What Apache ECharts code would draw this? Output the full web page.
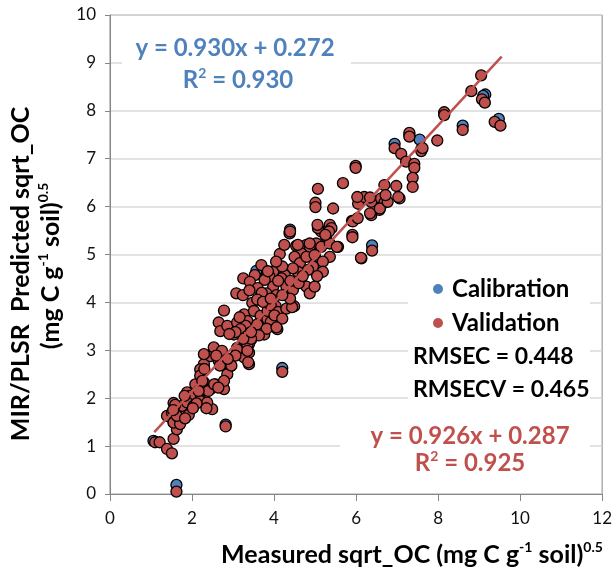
<!DOCTYPE html>
<html>
<head>
<meta charset="utf-8">
<script src="https://cdn.jsdelivr.net/npm/echarts@6/dist/echarts.min.js"></script>
<style>
html,body{margin:0;padding:0;background:#fff;}
#chart{width:615px;height:574px;}
</style>
</head>
<body>
<div id="chart"></div>
<script>
// ---------- data ----------
var xTicks = [0, 2, 4, 6, 8, 10, 12];
var yTicks = [0, 1, 2, 3, 4, 5, 6, 7, 8, 9, 10];

var calX = [1.62, 1.06, 2.82, 4.20, 3.44, 3.58, 3.57, 4.38, 6.39, 6.94, 7.55, 8.60, 9.15, 9.10, 9.48, 4.39, 2.20, 7.59, 1.55, 3.10, 5.00, 5.90, 7.30, 8.15];
var calY = [0.19, 1.11, 1.45, 2.63, 3.22, 4.62, 4.66, 5.47, 5.19, 7.31, 7.40, 7.69, 8.34, 8.31, 7.83, 5.52, 1.98, 7.20, 1.50, 3.05, 4.95, 5.70, 7.50, 7.95];

var valX = [
  9.05, 8.81, 9.07, 9.14, 9.38, 9.52, 8.60, 8.15, 8.15, 7.98,
  7.30, 7.30, 6.94, 7.10, 7.59, 7.62, 7.22, 7.42, 7.42, 7.38,
  7.38, 6.98, 6.69, 5.99, 5.99, 5.68, 5.07, 5.01, 5.01, 5.44,
  6.05, 6.05, 6.37, 6.61, 6.69, 6.57, 6.37, 7.06, 5.92, 6.04,
  5.91, 5.91, 6.13, 6.39, 5.36, 5.40, 5.27, 5.15, 5.07, 4.38,
  5.03, 5.15, 5.36, 5.56, 5.36, 4.54, 4.79, 4.87, 4.67, 4.50,
  4.63, 4.79, 4.99, 5.19, 4.95, 5.19, 4.83, 4.58, 4.46, 4.14,
  4.26, 3.98, 3.89, 3.69, 3.53, 3.25, 3.41, 3.08, 3.24, 3.77,
  3.98, 4.18, 4.30, 4.46, 4.79, 4.87, 4.99, 3.81, 4.06, 3.60,
  3.70, 4.10, 4.40, 4.60, 4.70, 3.85, 4.20, 4.05, 3.40, 5.05,
  2.78, 2.65, 2.69, 2.86, 3.02, 3.10, 3.27, 3.35, 3.31, 3.18,
  3.43, 3.47, 3.51, 3.35, 3.39, 3.39, 3.39, 3.27, 3.10, 3.67,
  3.84, 3.76, 3.84, 3.59, 4.04, 4.08, 4.08, 3.59, 4.49, 2.29,
  2.20, 2.45, 2.53, 2.73, 2.94, 2.86, 2.65, 2.29, 2.08, 2.29,
  2.57, 2.45, 2.78, 2.78, 2.20, 1.88, 2.16, 1.96, 4.20, 3.92,
  4.10, 4.30, 4.44, 3.92, 4.01, 4.20, 3.82, 4.06, 3.63, 3.73,
  3.92, 4.39, 4.20, 1.62, 1.10, 1.21, 1.39, 1.51, 1.55, 2.82,
  1.39, 1.51, 1.55, 1.63, 1.55, 1.71, 1.84, 1.76, 1.88, 2.04,
  2.20, 2.49, 2.37, 1.71, 1.63, 2.35, 2.11, 1.92, 2.02, 1.59,
  1.54, 1.83, 6.34, 6.58, 6.77, 6.20, 5.34, 5.53, 6.72, 7.03,
  6.03, 6.34, 5.06, 6.12, 5.25, 4.39, 4.25, 4.58, 4.87, 2.40,
  2.68, 2.96, 3.06, 2.30, 2.25, 2.54, 2.64, 2.16, 1.82, 3.35,
  3.35, 3.37, 3.44, 3.25, 3.16, 3.44, 3.06, 2.91, 2.87, 2.59
];
var valY = [
  8.74, 8.41, 8.24, 8.17, 7.77, 7.69, 7.60, 7.97, 7.91, 7.38,
  7.54, 7.46, 7.22, 7.10, 7.16, 7.22, 6.94, 6.89, 6.81, 6.60,
  6.41, 6.43, 6.45, 6.85, 6.81, 6.49, 6.37, 6.08, 5.99, 5.96,
  6.18, 6.06, 6.10, 6.17, 6.08, 5.93, 5.82, 6.17, 5.69, 5.76,
  5.41, 5.36, 4.92, 5.08, 5.62, 5.55, 5.37, 5.48, 5.55, 5.44,
  5.23, 5.16, 5.23, 5.16, 4.95, 5.18, 5.20, 5.16, 5.02, 4.95,
  4.82, 4.95, 4.99, 4.85, 4.75, 4.64, 4.68, 4.64, 4.71, 5.01,
  4.57, 4.64, 4.54, 4.78, 4.57, 4.50, 4.43, 4.19, 4.15, 4.47,
  4.33, 4.50, 4.33, 4.26, 4.33, 4.19, 4.33, 4.19, 4.15, 4.30,
  4.20, 4.45, 4.45, 4.40, 4.55, 4.65, 4.75, 4.85, 4.25, 4.55,
  3.83, 3.58, 3.40, 3.51, 3.33, 3.58, 3.75, 3.61, 3.51, 3.44,
  3.37, 3.99, 3.82, 3.30, 3.13, 2.95, 2.71, 2.85, 3.02, 3.72,
  3.65, 3.33, 3.82, 3.54, 3.92, 3.72, 3.44, 4.06, 3.92, 2.71,
  2.60, 2.88, 3.06, 2.99, 2.67, 2.50, 2.78, 2.92, 2.29, 2.33,
  2.29, 2.19, 2.19, 2.36, 2.47, 2.12, 2.12, 2.05, 2.55, 3.94,
  3.80, 3.87, 3.90, 3.59, 3.73, 3.66, 3.45, 3.48, 3.31, 4.01,
  4.08, 4.08, 4.15, 0.05, 1.08, 1.08, 0.94, 0.85, 1.15, 1.41,
  1.63, 1.70, 1.90, 1.35, 1.49, 1.56, 1.70, 1.84, 1.91, 1.84,
  1.94, 1.77, 1.91, 1.46, 1.63, 1.79, 1.89, 1.65, 1.79, 1.86,
  1.75, 1.58, 5.86, 5.96, 6.10, 6.20, 5.48, 5.16, 6.24, 6.20,
  6.20, 6.19, 5.62, 4.93, 5.41, 5.48, 5.20, 5.20, 5.23, 2.15,
  2.68, 2.68, 2.89, 2.61, 2.36, 2.29, 2.22, 2.15, 2.05, 3.10,
  2.99, 2.75, 3.24, 3.24, 3.69, 3.38, 3.38, 3.34, 2.82, 2.89
];

var trendX = [1.08, 9.55];
var trendY = [1.29, 9.13];

var calEq = 'y = 0.930x + 0.272';
var calR2 = '0.930';
var valEq = 'y = 0.926x + 0.287';
var valR2 = '0.925';
var rmsecText = 'RMSEC = 0.448';
var rmsecvText = 'RMSECV = 0.465';

// ---------- chart ----------
var BLUE = '#4F81BD', RED = '#C0504D';
var FONT = 'Lato, "Open Sans", sans-serif';

function pairs(xs, ys){ var o=[]; for (var i=0;i<xs.length;i++) o.push([xs[i], ys[i]]); return o; }
function sup(c){ return {fontSize: 14, fontWeight: 'bold', fontFamily: FONT, verticalAlign: 'top', lineHeight: 15, color: c, fill: c}; }
function base(c, s){ return {fontSize: s, fontWeight: 'bold', fontFamily: FONT, color: c, fill: c, lineHeight: s + 4}; }

var chart = echarts.init(document.getElementById('chart'), null, {renderer:'canvas'});

chart.setOption({
  animation: false,
  backgroundColor: '#fff',
  grid: {left: 110, right: 12, top: 15, bottom: 80, show: true, borderColor: '#868686', borderWidth: 1},
  xAxis: {
    type: 'value', min: xTicks[0], max: xTicks[xTicks.length-1], interval: 2,
    axisLine: {show: true, lineStyle: {color: '#868686', width: 1}},
    axisTick: {show: true, length: 7, lineStyle: {color: '#868686'}},
    axisLabel: {fontSize: 17, color: '#111', fontFamily: FONT, margin: 16},
    splitLine: {show: false}
  },
  yAxis: {
    type: 'value', min: yTicks[0], max: yTicks[yTicks.length-1], interval: 1,
    axisLine: {show: true, lineStyle: {color: '#868686', width: 1}},
    axisTick: {show: true, length: 5, lineStyle: {color: '#868686'}},
    axisLabel: {fontSize: 17, color: '#111', fontFamily: FONT, margin: 14},
    splitLine: {show: true, lineStyle: {color: '#d9d9d9', width: 1.5}}
  },
  legend: {
    orient: 'vertical', left: 433, top: 275, padding: 0, itemGap: 6,
    itemWidth: 10, itemHeight: 10,
    textStyle: {fontSize: 24, fontWeight: 'bold', color: '#000', fontFamily: FONT, lineHeight: 28, padding: [0,0,0,4]},
    data: [
      {name: 'Calibration', icon: 'circle', itemStyle: {color: BLUE, borderWidth: 0}},
      {name: 'Validation', icon: 'circle', itemStyle: {color: RED, borderWidth: 0}}
    ],
    z: 20
  },
  series: [
    {name: 'Calibration', type: 'scatter', data: pairs(calX, calY), symbolSize: 11,
      itemStyle: {color: BLUE, borderColor: '#000', borderWidth: 1.3, opacity: 1}, z: 2},
    {name: 'Validation', type: 'scatter', data: pairs(valX, valY), symbolSize: 11,
      itemStyle: {color: RED, borderColor: '#000', borderWidth: 1.3, opacity: 1}, z: 3},
    {name: 'Trend', type: 'line', data: pairs(trendX, trendY), symbol: 'none',
      lineStyle: {color: RED, width: 2.5}, z: 4, silent: true}
  ],
  graphic: [
    {type: 'rect', shape: {x: 122, y: 28, width: 229, height: 70}, style: {fill: '#fff'}, z: 10},
    {type: 'text', x: 235, y: 48, z: 11, style: {text: calEq, fill: BLUE, font: 'bold 24px ' + FONT, align: 'center', verticalAlign: 'middle'}},
    {type: 'text', x: 238, y: 80, z: 11, style: {text: '{b|R}{s|2}{b| = ' + calR2 + '}', align: 'center', verticalAlign: 'middle',
      rich: {b: base(BLUE, 24), s: sup(BLUE)}}},

    {type: 'rect', shape: {x: 408, y: 272, width: 182, height: 138}, style: {fill: '#fff'}, z: 10},
    {type: 'text', x: 413, y: 357, z: 11, style: {text: rmsecText, fill: '#000', font: 'bold 23px ' + FONT, align: 'left', verticalAlign: 'middle'}},
    {type: 'text', x: 413, y: 390, z: 11, style: {text: rmsecvText, fill: '#000', font: 'bold 23px ' + FONT, align: 'left', verticalAlign: 'middle'}},

    {type: 'rect', shape: {x: 340, y: 418, width: 250, height: 60}, style: {fill: '#fff'}, z: 10},
    {type: 'text', x: 470, y: 436, z: 11, style: {text: valEq, fill: RED, font: 'bold 24px ' + FONT, align: 'center', verticalAlign: 'middle'}},
    {type: 'text', x: 470, y: 463, z: 11, style: {text: '{b|R}{s|2}{b| = ' + valR2 + '}', align: 'center', verticalAlign: 'middle',
      rich: {b: base(RED, 24), s: sup(RED)}}},

    {type: 'text', x: 21, y: 274, rotation: Math.PI/2, z: 11, style: {text: 'MIR/PLSR  Predicted sqrt_OC', fill: '#000', font: 'bold 25px ' + FONT, align: 'center', verticalAlign: 'middle'}},
    {type: 'text', x: 51, y: 266, rotation: Math.PI/2, z: 11, style: {text: '{b|(mg C g}{s|-1}{b| soil)}{s|0.5}', align: 'center', verticalAlign: 'middle',
      rich: {b: base('#000', 25), s: sup('#000')}}},
    {type: 'text', x: 412, y: 555, z: 11, style: {text: '{b|Measured sqrt_OC (mg C g}{s|-1}{b| soil)}{s|0.5}', align: 'center', verticalAlign: 'middle',
      rich: {b: base('#000', 25), s: sup('#000')}}}
  ]
});
</script>
</body>
</html>
